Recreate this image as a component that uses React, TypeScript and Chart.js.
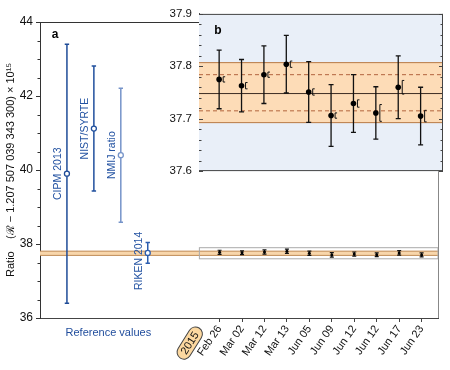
import React, { useEffect, useRef } from "react";
import { Chart, registerables } from "chart.js";
Chart.register(...registerables);

const FONT = "'Liberation Sans', Arial, sans-serif";

// ---- Reference values (panel a) ----
const refLabels = ["CIPM 2013", "NIST/SYRTE", "NMIJ ratio", "RIKEN 2014"];
const refX = [-5.8, -4.6, -3.4, -2.2];
const refValues = [39.9, 41.12, 40.4, 37.76];
const refErrors = [3.5, 1.69, 1.81, 0.28];
const refColors = ["#1f4c98", "#21509e", "#7694c9", "#2b5db0"];
const refLabelShift = [0, 0, 0, 8];

// ---- 2015 measurements ----
const dateLabels = ["Feb 26", "Mar 02", "Mar 12", "Mar 13", "Jun 05", "Jun 09", "Jun 12", "Jun 12", "Jun 17", "Jun 23"];
const dateX = [1, 2, 3, 4, 5, 6, 7, 8, 9, 10];
const dateValues = [37.775, 37.763, 37.784, 37.804, 37.751, 37.706, 37.729, 37.711, 37.76, 37.705];
const dateErrors = [0.056, 0.05, 0.055, 0.055, 0.058, 0.059, 0.055, 0.05, 0.06, 0.055];
const bracketErrors = [0.005, 0.006, 0.005, 0.006, 0.006, 0.005, 0.007, 0.016, 0.013, 0.011];

// ---- Mean and bands ----
const bandLow = 37.6925;
const bandHigh = 37.807;
const bandMean = 37.748;
const dashLow = 37.715;
const dashHigh = 37.784;

// ---- Axes ----
const mainYTicks = [36, 38, 40, 42, 44];
const insetYTicks = [37.6, 37.7, 37.8, 37.9];
const yearLabel = "2015";
const yTitle = "Ratio\u00a0\u00a0\u00a0\u00a0(\u211b \u2212 1.207 507 039 343 300) \u00d7 10\u00b9\u2075";

function errBar(ctx: CanvasRenderingContext2D, x: number, y1: number, y2: number, cap: number, color: string, lw: number) {
  ctx.strokeStyle = color;
  ctx.lineWidth = lw;
  ctx.beginPath();
  ctx.moveTo(x, y1);
  ctx.lineTo(x, y2);
  ctx.moveTo(x - cap, y1);
  ctx.lineTo(x + cap, y1);
  ctx.moveTo(x - cap, y2);
  ctx.lineTo(x + cap, y2);
  ctx.stroke();
}

export default function App() {
  const mainRef = useRef<HTMLCanvasElement>(null);
  const insetRef = useRef<HTMLCanvasElement>(null);

  useEffect(() => {
    const mainPlugin = {
      id: "mainDeco",
      beforeDatasetsDraw(chart: any) {
        const { ctx, chartArea: a, scales } = chart;
        const x = scales.x, y = scales.y;
        ctx.save();
        const yh = y.getPixelForValue(bandHigh), yl = y.getPixelForValue(bandLow);
        ctx.fillStyle = "#f8d6ab";
        ctx.fillRect(a.left, yh, a.right - a.left, yl - yh);
        ctx.strokeStyle = "#c08a55";
        ctx.lineWidth = 1;
        ctx.beginPath();
        ctx.moveTo(a.left, yh); ctx.lineTo(a.right, yh);
        ctx.moveTo(a.left, yl); ctx.lineTo(a.right, yl);
        ctx.stroke();
        // zoom box
        const bx = x.getPixelForValue(0.1);
        const by1 = y.getPixelForValue(37.9), by2 = y.getPixelForValue(37.6);
        ctx.strokeStyle = "#aaaaaa";
        ctx.strokeRect(bx, by1, a.right - bx, by2 - by1);
        // ref error bars
        refValues.forEach((v, i) => {
          const px = x.getPixelForValue(refX[i]);
          errBar(ctx, px, y.getPixelForValue(v + refErrors[i]), y.getPixelForValue(v - refErrors[i]), 2.2, refColors[i], 1.5);
        });
        dateValues.forEach((v, i) => {
          const px = x.getPixelForValue(dateX[i]);
          errBar(ctx, px, y.getPixelForValue(v + dateErrors[i]), y.getPixelForValue(v - dateErrors[i]), 2, "#111", 1.2);
        });
        ctx.restore();
      },
      afterDraw(chart: any) {
        const { ctx, chartArea: a, scales } = chart;
        const x = scales.x, y = scales.y;
        ctx.save();
        // frame
        ctx.strokeStyle = "#333";
        ctx.lineWidth = 1;
        ctx.beginPath();
        ctx.moveTo(a.left, a.top + 0.5); ctx.lineTo(a.right, a.top + 0.5);
        ctx.stroke();
        ctx.strokeStyle = "#888";
        ctx.beginPath();
        ctx.moveTo(a.right + 0.5, a.top); ctx.lineTo(a.right + 0.5, a.bottom);
        ctx.stroke();
        // minor y ticks
        ctx.strokeStyle = "#333";
        ctx.beginPath();
        for (let v = 36.5; v < 44; v += 0.5) {
          if (Math.abs(v / 2 - Math.round(v / 2)) < 1e-6) continue;
          const py = Math.round(y.getPixelForValue(v)) + 0.5;
          ctx.moveTo(a.left - 2.5, py); ctx.lineTo(a.left, py);
        }
        ctx.stroke();
        // ref labels
        ctx.font = `10.5px ${FONT}`;
        ctx.textAlign = "center";
        ctx.textBaseline = "middle";
        refLabels.forEach((t, i) => {
          const px = x.getPixelForValue(refX[i]) - 8.5;
          const py = y.getPixelForValue(refValues[i]) + refLabelShift[i];
          ctx.save();
          ctx.translate(px, py);
          ctx.rotate(-Math.PI / 2);
          ctx.fillStyle = "#2453a2";
          ctx.fillText(t, 0, 0);
          ctx.restore();
        });
        // panel letter
        ctx.fillStyle = "#000";
        ctx.font = `bold 12px ${FONT}`;
        ctx.fillText("a", a.left + 15, a.top + 13);
        // Reference values
        ctx.font = `11px ${FONT}`;
        ctx.fillStyle = "#1f4c9c";
        ctx.fillText("Reference values", (x.getPixelForValue(refX[0]) + x.getPixelForValue(refX[3])) / 2 + 1, a.bottom + 15);
        // 2015 badge
        const bxp = x.getPixelForValue(0);
        ctx.save();
        ctx.translate(bxp + 2, a.bottom + 10);
        ctx.rotate(-58 * Math.PI / 180);
        ctx.font = `11px ${FONT}`;
        const w = ctx.measureText(yearLabel).width;
        const L = w + 11, H = 14;
        ctx.beginPath();
        ctx.roundRect(-L, -H / 2, L, H, H / 2);
        ctx.fillStyle = "#fcd8a0";
        ctx.fill();
        ctx.strokeStyle = "#444";
        ctx.lineWidth = 1;
        ctx.stroke();
        ctx.fillStyle = "#111";
        ctx.textAlign = "center";
        ctx.fillText(yearLabel, -L / 2, 0.5);
        ctx.restore();
        ctx.restore();
      },
    };

    const main = new Chart(mainRef.current as HTMLCanvasElement, {
      type: "scatter",
      data: {
        datasets: [
          {
            data: refValues.map((v, i) => ({ x: refX[i], y: v })),
            pointRadius: 2.5,
            pointBackgroundColor: "#ffffff",
            pointBorderColor: refColors,
            pointBorderWidth: 1.3,
          },
          {
            data: dateValues.map((v, i) => ({ x: dateX[i], y: v })),
            pointRadius: 1.5,
            pointBackgroundColor: "#000",
            pointBorderColor: "#000",
            pointBorderWidth: 0,
          },
        ],
      },
      options: {
        animation: false,
        responsive: false,
        devicePixelRatio: 1,
        layout: { padding: { top: 22, right: 12, left: 0, bottom: 0 } },
        plugins: { legend: { display: false }, tooltip: { enabled: false } },
        scales: {
          x: {
            type: "linear",
            min: -7,
            max: 10.73,
            afterBuildTicks: (s: any) => { s.ticks = dateX.map((v) => ({ value: v })); },
            afterFit: (s: any) => { s.height = 52; },
            ticks: {
              autoSkip: false,
              minRotation: 55,
              maxRotation: 55,
              padding: 1,
              color: "#111",
              font: { family: FONT, size: 11 },
              callback: (v: any) => dateLabels[Math.round(v) - 1] ?? "",
            },
            grid: { drawOnChartArea: false, drawTicks: true, tickLength: 4, color: "#444" },
            border: { color: "#444" },
          },
          y: {
            type: "linear",
            min: 36,
            max: 44,
            afterBuildTicks: (s: any) => { s.ticks = mainYTicks.map((v) => ({ value: v })); },
            afterFit: (s: any) => { s.width = 40; },
            ticks: { color: "#111", padding: 3, font: { family: FONT, size: 12 } },
            grid: { drawOnChartArea: false, drawTicks: true, tickLength: 4, color: "#333" },
            border: { color: "#333" },
            title: { display: true, text: yTitle, color: "#111", font: { family: FONT, size: 11 }, padding: { top: 4, bottom: 0 } },
          },
        },
      },
      plugins: [mainPlugin],
    } as any);

    const insetPlugin = {
      id: "insetDeco",
      beforeDatasetsDraw(chart: any) {
        const { ctx, chartArea: a, scales } = chart;
        const x = scales.x, y = scales.y;
        ctx.save();
        ctx.fillStyle = "#e9eff8";
        ctx.fillRect(a.left, a.top, a.right - a.left, a.bottom - a.top);
        const yh = y.getPixelForValue(bandHigh), yl = y.getPixelForValue(bandLow);
        ctx.fillStyle = "#fddcb7";
        ctx.fillRect(a.left, yh, a.right - a.left, yl - yh);
        ctx.lineWidth = 1;
        ctx.strokeStyle = "#b87a45";
        ctx.beginPath();
        ctx.moveTo(a.left, yh); ctx.lineTo(a.right, yh);
        ctx.moveTo(a.left, yl); ctx.lineTo(a.right, yl);
        ctx.stroke();
        ctx.strokeStyle = "#3c2c22";
        ctx.beginPath();
        const ym = y.getPixelForValue(bandMean);
        ctx.moveTo(a.left, ym); ctx.lineTo(a.right, ym);
        ctx.stroke();
        ctx.strokeStyle = "#b2643e";
        ctx.setLineDash([4, 3]);
        ctx.beginPath();
        [dashLow, dashHigh].forEach((v) => {
          const py = y.getPixelForValue(v);
          ctx.moveTo(a.left, py); ctx.lineTo(a.right, py);
        });
        ctx.stroke();
        ctx.setLineDash([]);
        // error bars
        dateValues.forEach((v, i) => {
          const px = x.getPixelForValue(dateX[i]);
          errBar(ctx, px, y.getPixelForValue(v + dateErrors[i]), y.getPixelForValue(v - dateErrors[i]), 2.5, "#111", 1.3);
          // bracket
          const bx = px + 4;
          const t = y.getPixelForValue(v + bracketErrors[i]);
          const b = y.getPixelForValue(v - bracketErrors[i]);
          ctx.strokeStyle = "#111";
          ctx.lineWidth = 1;
          ctx.beginPath();
          ctx.moveTo(bx + 2, t); ctx.lineTo(bx, t); ctx.lineTo(bx, b); ctx.lineTo(bx + 2, b);
          ctx.stroke();
        });
        ctx.restore();
      },
      afterDraw(chart: any) {
        const { ctx, chartArea: a, scales } = chart;
        const y = scales.y;
        ctx.save();
        ctx.strokeStyle = "#444";
        ctx.lineWidth = 1;
        ctx.beginPath();
        ctx.moveTo(a.left, a.top + 0.5); ctx.lineTo(a.right, a.top + 0.5);
        ctx.moveTo(a.right - 0.5, a.top); ctx.lineTo(a.right - 0.5, a.bottom);
        ctx.moveTo(a.left, a.bottom - 0.5); ctx.lineTo(a.right, a.bottom - 0.5);
        for (let k = 0; k <= 15; k++) {
          const v = 37.6 + k * 0.02;
          const major = k % 5 === 0;
          const len = major ? 4 : 2.5;
          const py = Math.round(y.getPixelForValue(v)) + 0.5;
          ctx.moveTo(a.left, py); ctx.lineTo(a.left + len, py);
          ctx.moveTo(a.right, py); ctx.lineTo(a.right - len, py);
        }
        ctx.stroke();
        ctx.fillStyle = "#000";
        ctx.font = `bold 12px ${FONT}`;
        ctx.textAlign = "center";
        ctx.textBaseline = "middle";
        ctx.fillText("b", a.left + 19, a.top + 17);
        ctx.restore();
      },
    };

    const inset = new Chart(insetRef.current as HTMLCanvasElement, {
      type: "scatter",
      data: {
        datasets: [
          {
            data: dateValues.map((v, i) => ({ x: dateX[i], y: v })),
            pointRadius: 2.8,
            pointBackgroundColor: "#000",
            pointBorderColor: "#000",
            pointBorderWidth: 0,
          },
        ],
      },
      options: {
        animation: false,
        responsive: false,
        devicePixelRatio: 1,
        layout: { padding: { top: 10, right: 7, left: 0, bottom: 5 } },
        plugins: { legend: { display: false }, tooltip: { enabled: false } },
        scales: {
          x: { type: "linear", min: 0.1, max: 11, display: false },
          y: {
            type: "linear",
            min: 37.6,
            max: 37.9,
            afterBuildTicks: (s: any) => { s.ticks = insetYTicks.map((v) => ({ value: v })); },
            afterFit: (s: any) => { s.width = 39; },
            ticks: { color: "#111", padding: 7, font: { family: FONT, size: 11.5 }, callback: (v: any) => Number(v).toFixed(1) },
            grid: { drawOnChartArea: false, drawTicks: false },
            border: { color: "#444" },
          },
        },
      },
      plugins: [insetPlugin],
    } as any);

    return () => {
      main.destroy();
      inset.destroy();
    };
  }, []);

  return (
    <div style={{ position: "fixed", left: 0, top: 0, width: 450, height: 370, background: "#fff" }}>
      <canvas ref={mainRef} width={450} height={370} style={{ position: "absolute", left: 0, top: 0 }} />
      <canvas ref={insetRef} width={290} height={185} style={{ position: "absolute", left: 160, top: 0 }} />
    </div>
  );
}
